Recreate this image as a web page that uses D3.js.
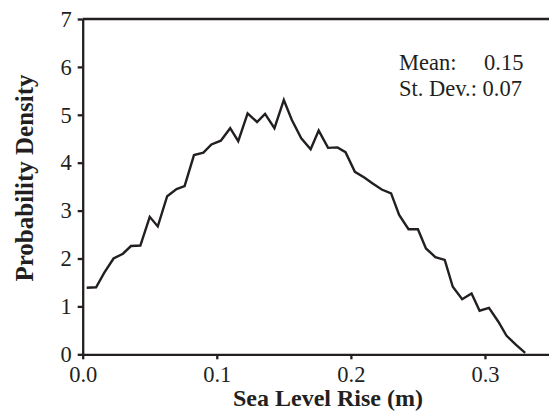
<!DOCTYPE html>
<html>
<head>
<meta charset="utf-8">
<script src="https://d3js.org/d3.v7.min.js"></script>
<style>
  body { margin: 0; background: #fff; }
  svg { display: block; font-family: "Liberation Serif", "Times New Roman", serif; }
  .axis path, .axis line { stroke: #231f20; stroke-width: 2.3; }
  .axis text { font-size: 22.5px; fill: #231f20; font-family: "Liberation Serif", serif; }
</style>
</head>
<body>
<svg width="549" height="416"></svg>
<script>
// sea level rise (m) at each bin
var seaLevel = [0.003, 0.010, 0.016, 0.023, 0.030, 0.036, 0.043, 0.050, 0.056, 0.063,
  0.070, 0.076, 0.083, 0.090, 0.096, 0.103, 0.110, 0.116, 0.123, 0.130,
  0.136, 0.143, 0.150, 0.156, 0.163, 0.170, 0.176, 0.183, 0.190, 0.196,
  0.203, 0.210, 0.216, 0.223, 0.230, 0.236, 0.243, 0.250, 0.256, 0.263,
  0.270, 0.276, 0.283, 0.290, 0.296, 0.303, 0.310, 0.316, 0.323, 0.330];
// probability density
var density = [1.39, 1.40, 1.70, 2.00, 2.10, 2.26, 2.27, 2.87, 2.67, 3.30,
  3.45, 3.51, 4.16, 4.21, 4.38, 4.46, 4.72, 4.45, 5.03, 4.85,
  5.02, 4.72, 5.31, 4.89, 4.51, 4.28, 4.67, 4.31, 4.32, 4.22,
  3.81, 3.69, 3.57, 3.44, 3.36, 2.91, 2.61, 2.61, 2.21, 2.03,
  1.97, 1.41, 1.15, 1.27, 0.91, 0.97, 0.68, 0.39, 0.20, 0.03];
var xTicks = [0.0, 0.1, 0.2, 0.3];
var yTicks = [0, 1, 2, 3, 4, 5, 6, 7];
var statLines = [["Mean:", "0.15"], ["St. Dev.:", "0.07"]];

var svg = d3.select("svg");
var ink = "#231f20";

var x = d3.scaleLinear().domain([0, 0.35]).range([82.7, 552]);
var y = d3.scaleLinear().domain([0, 7]).range([354.3, 19]);

// top border
svg.append("line")
  .attr("x1", x(0)).attr("x2", x(0.35))
  .attr("y1", y(7)).attr("y2", y(7))
  .attr("stroke", ink).attr("stroke-width", 2.3);

svg.append("g")
  .attr("class", "axis")
  .attr("transform", "translate(0," + y(0) + ")")
  .call(d3.axisBottom(x).tickValues(xTicks).tickFormat(d3.format(".1f"))
    .tickSize(5).tickSizeOuter(0).tickPadding(7));

svg.append("g")
  .attr("class", "axis")
  .attr("transform", "translate(" + x(0) + ",0)")
  .call(d3.axisLeft(y).tickValues(yTicks).tickFormat(d3.format("d"))
    .tickSize(5).tickSizeOuter(0).tickPadding(6));

var pts = seaLevel.map(function(d, i) { return [d, density[i]]; });

svg.append("path")
  .datum(pts)
  .attr("fill", "none")
  .attr("stroke", ink)
  .attr("stroke-width", 2.4)
  .attr("stroke-linejoin", "miter")
  .attr("d", d3.line()
    .x(function(d) { return x(d[0]); })
    .y(function(d) { return y(d[1]); }));

// stats box
statLines.forEach(function(s, i) {
  var t = svg.append("text")
    .attr("x", 399)
    .attr("y", 70 + i * 26)
    .style("font-size", "22.5px")
    .style("fill", ink);
  if (i == 0) {
    t.text(s[0]);
    svg.append("text")
      .attr("x", 484)
      .attr("y", 70)
      .style("font-size", "22.5px")
      .style("fill", ink)
      .text(s[1]);
  } else {
    t.text(s[0] + " " + s[1]);
  }
});

svg.append("text")
  .attr("text-anchor", "middle")
  .attr("x", 328)
  .attr("y", 406)
  .style("font-size", "24px")
  .style("font-weight", "bold")
  .style("fill", ink)
  .text("Sea Level Rise (m)");

svg.append("text")
  .attr("text-anchor", "middle")
  .attr("transform", "translate(33,178) rotate(-90)")
  .style("font-size", "25px")
  .style("font-weight", "bold")
  .style("fill", ink)
  .text("Probability Density");
</script>
</body>
</html>
